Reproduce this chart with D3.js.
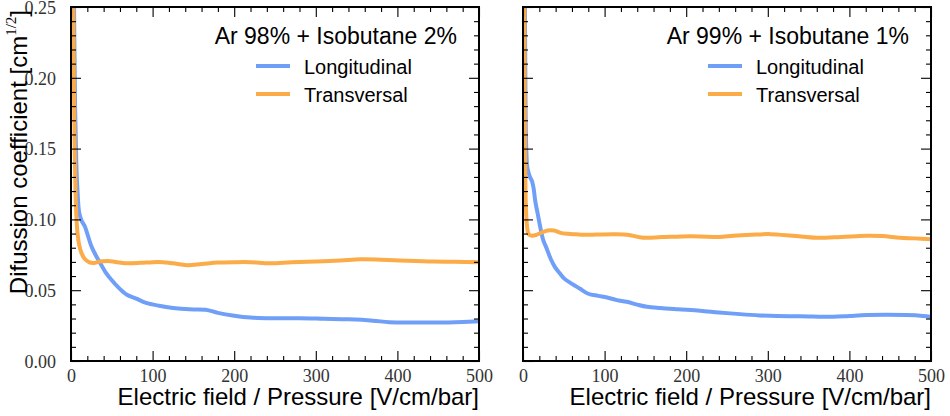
<!DOCTYPE html>
<html>
<head>
<meta charset="utf-8">
<script src="https://cdn.jsdelivr.net/npm/d3@7"></script>
<style>
  html, body { margin: 0; padding: 0; background: #fff; }
  svg { display: block; }
</style>
</head>
<body>
<svg id="chart" width="950" height="416"></svg>
<script>
// Diffusion coefficients vs reduced field, [E/p, D] pairs
const ar98Longitudinal = [[3,0.30],[5,0.18],[6.5,0.14],[8,0.12],[10,0.105],[13,0.099],[17,0.095],[21,0.088],[25,0.081],[30,0.075],[36,0.069],[42,0.063],[50,0.057],[58,0.052],[68,0.047],[80,0.044],[92,0.041],[108,0.039],[125,0.0375],[145,0.0365],[165,0.0362],[180,0.034],[200,0.032],[220,0.0307],[250,0.0302],[280,0.0302],[310,0.0298],[340,0.0294],[370,0.0285],[390,0.0274],[420,0.0272],[450,0.0272],[480,0.0276],[500,0.028]];
const ar98Transversal = [[2.5,0.27],[3.5,0.20],[4.5,0.15],[5.5,0.12],[6.5,0.103],[8,0.09],[10,0.082],[13,0.076],[17,0.072],[22,0.0698],[28,0.0692],[35,0.0702],[48,0.0705],[60,0.0695],[70,0.069],[85,0.0693],[100,0.0698],[112,0.0698],[125,0.069],[142,0.0677],[160,0.0685],[180,0.0695],[200,0.0698],[220,0.0698],[244,0.069],[270,0.0697],[300,0.0703],[330,0.071],[355,0.0718],[380,0.0715],[403,0.071],[444,0.0702],[470,0.0701],[500,0.0698]];
const ar99Longitudinal = [[2,0.30],[3,0.19],[4,0.15],[5.5,0.136],[8.5,0.130],[11,0.127],[13,0.122],[15,0.113],[18,0.104],[21,0.095],[25,0.085],[29,0.0795],[34,0.072],[39,0.0665],[45,0.062],[51,0.058],[60,0.0545],[70,0.051],[80,0.0475],[92,0.046],[103,0.0448],[115,0.043],[127,0.0418],[140,0.0398],[152,0.0383],[168,0.0374],[190,0.0365],[217,0.0355],[240,0.0343],[266,0.0331],[290,0.0322],[311,0.0317],[340,0.0316],[380,0.0312],[400,0.0318],[421,0.0324],[445,0.0326],[470,0.0324],[490,0.0318],[500,0.0312]];
const ar99Transversal = [[1.5,0.27],[2,0.20],[2.5,0.15],[3.5,0.11],[5,0.095],[7,0.0895],[11,0.0885],[16,0.089],[22,0.0905],[30,0.0922],[38,0.0922],[46,0.0905],[55,0.0898],[65,0.0895],[75,0.0892],[90,0.0893],[113,0.0895],[130,0.089],[145,0.0872],[170,0.0875],[194,0.088],[217,0.088],[240,0.0875],[258,0.0885],[280,0.0892],[303,0.0896],[330,0.0885],[360,0.087],[390,0.0876],[421,0.0884],[440,0.0882],[462,0.087],[480,0.0866],[500,0.086]];

const panelTitles = ["Ar 98% + Isobutane 2%", "Ar 99% + Isobutane 1%"];
const seriesNames = ["Longitudinal", "Transversal"];
const seriesColors = ["#709ff8", "#fbab48"];
const xTicks = [0, 100, 200, 300, 400, 500];
const yTicks = [0.00, 0.05, 0.10, 0.15, 0.20, 0.25];

const panels = [
  { left: 71, right: 479, series: [ar98Longitudinal, ar98Transversal], title: panelTitles[0], showY: true },
  { left: 523, right: 931, series: [ar99Longitudinal, ar99Transversal], title: panelTitles[1], showY: false }
];
const plotTop = 7, plotBottom = 361;

const svg = d3.select("#chart");
const tickFont = "'Liberation Serif', 'DejaVu Serif', serif";
const sansFont = "'Liberation Sans', Arial, Helvetica, sans-serif";

const minorX = d3.range(0, 501, 20).filter(v => v % 100 !== 0);
const minorY = d3.range(0, 26, 1).map(v => v / 100).filter((v, i) => i % 5 !== 0);

panels.forEach((p, idx) => {
  const x = d3.scaleLinear().domain([0, 500]).range([p.left, p.right]);
  const y = d3.scaleLinear().domain([0, 0.25]).range([plotBottom, plotTop]);
  const g = svg.append("g");

  const clipId = "clip" + idx;
  svg.append("clipPath").attr("id", clipId)
    .append("rect").attr("x", p.left).attr("y", plotTop)
    .attr("width", p.right - p.left).attr("height", plotBottom - plotTop);

  const line = d3.line().x(d => x(d[0])).y(d => y(d[1])).curve(d3.curveCatmullRom.alpha(0.5));
  p.series.forEach((s, i) => {
    g.append("path").datum(s)
      .attr("clip-path", `url(#${clipId})`)
      .attr("d", line)
      .attr("fill", "none")
      .attr("stroke", seriesColors[i])
      .attr("stroke-width", 4)
      .attr("stroke-linejoin", "round");
  });

  // ticks on all four sides, pointing inward
  const styleAxis = sel => {
    sel.select(".domain").remove();
    sel.selectAll(".tick line").attr("stroke", "#000").attr("stroke-width", 1.1);
    sel.selectAll("text").attr("font-family", tickFont).attr("font-size", 18).attr("fill", "#333");
  };
  g.append("g").attr("transform", `translate(0,${plotBottom})`)
    .call(d3.axisBottom(x).tickValues(xTicks).tickSize(-10).tickPadding(0).tickFormat(d3.format("d")))
    .call(styleAxis)
    .call(s => s.selectAll("text").attr("dy", null).attr("y", 21));
  g.append("g").attr("transform", `translate(0,${plotBottom})`)
    .call(d3.axisBottom(x).tickValues(minorX).tickSize(-5).tickFormat(""))
    .call(styleAxis);
  g.append("g").attr("transform", `translate(0,${plotTop})`)
    .call(d3.axisTop(x).tickValues(xTicks).tickSize(-10).tickFormat(""))
    .call(styleAxis);
  g.append("g").attr("transform", `translate(0,${plotTop})`)
    .call(d3.axisTop(x).tickValues(minorX).tickSize(-5).tickFormat(""))
    .call(styleAxis);

  const leftMajor = d3.axisLeft(y).tickValues(yTicks).tickSize(-10).tickPadding(15);
  leftMajor.tickFormat(p.showY ? d3.format(".2f") : "");
  g.append("g").attr("transform", `translate(${p.left},0)`)
    .call(leftMajor)
    .call(styleAxis)
    .call(s => s.selectAll("text").attr("dy", "0.35em"));
  g.append("g").attr("transform", `translate(${p.left},0)`)
    .call(d3.axisLeft(y).tickValues(minorY).tickSize(-5).tickFormat(""))
    .call(styleAxis);
  g.append("g").attr("transform", `translate(${p.right},0)`)
    .call(d3.axisRight(y).tickValues(yTicks).tickSize(-10).tickFormat(""))
    .call(styleAxis);
  g.append("g").attr("transform", `translate(${p.right},0)`)
    .call(d3.axisRight(y).tickValues(minorY).tickSize(-5).tickFormat(""))
    .call(styleAxis);

  // frame
  g.append("rect")
    .attr("x", p.left).attr("y", plotTop)
    .attr("width", p.right - p.left).attr("height", plotBottom - plotTop)
    .attr("fill", "none").attr("stroke", "#000").attr("stroke-width", 2);

  // x-axis label, right-aligned to the axis end
  g.append("text")
    .attr("x", p.right).attr("y", 405)
    .attr("text-anchor", "end")
    .attr("font-family", sansFont).attr("font-size", 24).attr("fill", "#000")
    .text("Electric field / Pressure [V/cm/bar]");

  // legend
  const lg = g.append("g").attr("transform", `translate(${p.right},0)`);
  lg.append("text")
    .attr("x", -22).attr("y", 44)
    .attr("text-anchor", "end")
    .attr("font-family", sansFont).attr("font-size", 23).attr("fill", "#000")
    .text(p.title);
  const entryX = -223;
  seriesNames.forEach((name, i) => {
    const yy = 66 + i * 28;
    lg.append("line")
      .attr("x1", entryX).attr("x2", entryX + 34)
      .attr("y1", yy).attr("y2", yy)
      .attr("stroke", seriesColors[i]).attr("stroke-width", 4);
    lg.append("text")
      .attr("x", entryX + 48).attr("y", yy + 8)
      .attr("font-family", sansFont).attr("font-size", 20).attr("fill", "#000")
      .text(name);
  });
});

// y-axis label with superscript exponent
const yl = svg.append("text")
  .attr("transform", "translate(27,10) rotate(-90)")
  .attr("text-anchor", "end")
  .attr("font-family", sansFont).attr("font-size", 24).attr("fill", "#000");
yl.append("tspan").text("Difussion coefficient [cm");
yl.append("tspan").attr("font-family", tickFont).attr("font-size", 15).attr("dy", -11).text("1/2");
yl.append("tspan").attr("dy", 11).text("]");
</script>
</body>
</html>
